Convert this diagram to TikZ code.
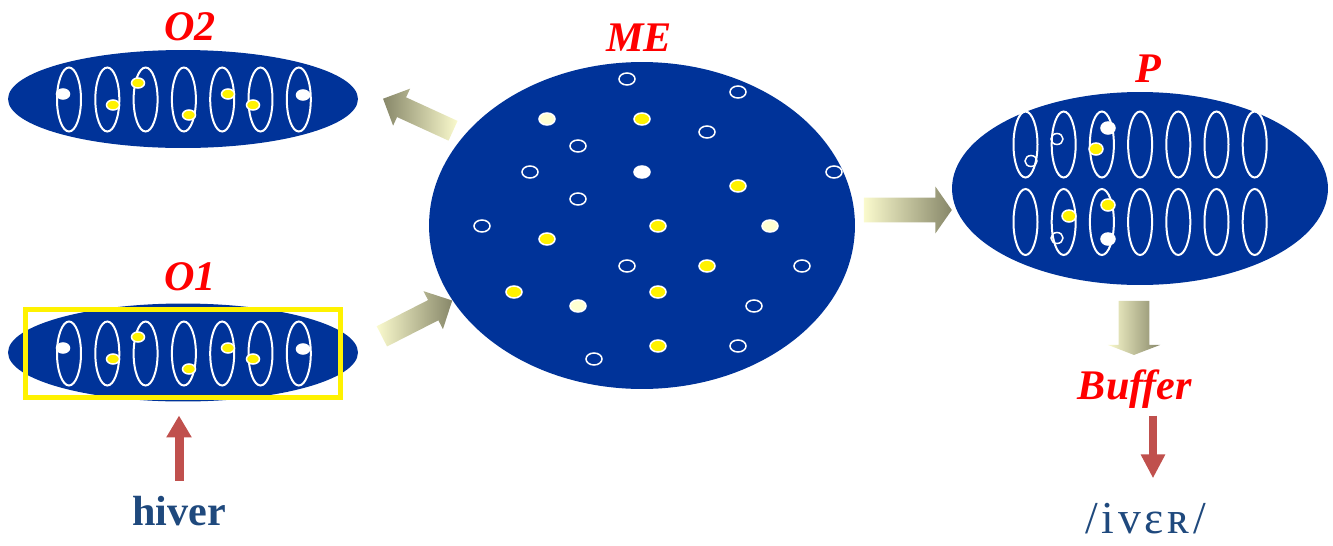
\documentclass[tikz,border=0pt]{standalone}
\usepackage{fontspec}
\setmainfont{Liberation Serif}
\usetikzlibrary{shapes.geometric, shapes.arrows, arrows.meta, positioning, calc}

\definecolor{meblue}{RGB}{0,51,153}
\definecolor{dotcream}{RGB}{255,255,210}
\definecolor{arrlight}{RGB}{250,250,205}
\definecolor{arrdark}{RGB}{135,135,105}
\definecolor{redarr}{RGB}{192,80,77}
\definecolor{wordblue}{RGB}{31,73,125}

\begin{document}
\begin{tikzpicture}[x=0.02cm, y=-0.02cm,
    blob/.style={ellipse, fill=meblue, inner sep=0pt},
    ring/.style={ellipse, draw=white, line width=0.04cm, inner sep=0pt, minimum width=0.48cm, minimum height=1.28cm},
    dot/.style={ellipse, draw=white, line width=0.03cm, inner sep=0pt, minimum width=0.26cm, minimum height=0.2cm},
    ydot/.style={dot, fill=yellow},
    wdot/.style={dot, fill=white},
    cdot/.style={dot, fill=dotcream},
    odot/.style={dot, fill=none},
    big/.style={minimum width=0.32cm, minimum height=0.24cm},
    mid/.style={minimum width=0.28cm, minimum height=0.24cm},
    small/.style={minimum width=0.24cm, minimum height=0.22cm},
    lbl/.style={text=red, font=\fontsize{24}{28}\selectfont\bfseries\itshape, inner sep=0pt},
    fatarrow/.style={single arrow, inner sep=0pt, single arrow head indent=0pt},
    redup/.style={redarr, line width=0.18cm, -{Triangle[length=0.44cm, width=0.48cm]}},
    reddown/.style={redarr, line width=0.16cm, -{Triangle[length=0.48cm, width=0.46cm]}}]

  \useasboundingbox (0,0) rectangle (1333,545);

  % the four big sets
  \node[blob, minimum width=7cm, minimum height=1.96cm] (o2) at (183,99) {};
  \node[blob, minimum width=7cm, minimum height=1.96cm] (o1) at (183,352.5) {};
  \node[blob, minimum width=8.52cm, minimum height=6.54cm] (me) at (642,225.5) {};
  \node[blob, minimum width=7.52cm, minimum height=3.86cm] (p) at (1140,188.5) {};

  % slots in O2, O1 and P
  \foreach \k in {1,...,7} {
    \node[ring] (o2r\k) at ({69+38.3*(\k-1)},99.5) {};
    \node[ring] (o1r\k) at ({69+38.3*(\k-1)},353.5) {};
    \node[ring, minimum height=1.32cm] (pt\k) at ({1025.5+38.2*(\k-1)},144.5) {};
    \node[ring, minimum height=1.32cm] (pb\k) at ({1025.5+38.2*(\k-1)},222) {};
  }

  % units in O2 and O1
  \foreach \x/\y/\s [count=\i] in {63/94/wdot, 113/105/ydot, 138/83/ydot, 189/115/ydot,
      228/94/ydot, 253/105/ydot, 303/95/wdot} {
    \node[\s] (o2d\i) at (\x,\y) {};
    \node[\s] (o1d\i) at (\x,\y+254) {};
  }

  % units in ME
  \foreach \x/\y/\s [count=\i] in {627/79/odot, 738/92/odot, 707/132/odot, 578/146/odot,
      530/172/odot, 834/172/odot, 578/199/odot, 482/226/odot, 627/266/odot, 802/266/odot,
      754/306/odot, 738/346/odot, 594/359/odot,
      547/119/cdot, 770/226/cdot, 578/306/cdot, 642/172/wdot,
      642/119/ydot, 738/186/ydot, 658/226/ydot, 547/239/ydot, 707/266/ydot,
      514/292/ydot, 658/292/ydot, 658/346/ydot} {
    \node[\s, big] (med\i) at (\x,\y) {};
  }

  % units in P
  \node[odot, small] (pd1) at (1031,161) {};
  \node[odot, small] (pd2) at (1057,139) {};
  \node[odot, small] (pd3) at (1057,238) {};
  \node[wdot, mid] (pd4) at (1108,128) {};
  \node[wdot, mid] (pd5) at (1108,239) {};
  \node[ydot, mid] (pd6) at (1096,149) {};
  \node[ydot, mid] (pd7) at (1069,216) {};
  \node[ydot, mid] (pd8) at (1108,205) {};

  % frame round O1
  \node[draw=yellow, line width=0.1cm, inner sep=0pt, minimum width=6.3cm, minimum height=1.76cm] (o1box) at (183,353.5) {};

  % labels
  \node[lbl] (o2lbl) at (190,27) {O2};
  \node[lbl] (o1lbl) at (190,277) {O1};
  \node[lbl] (melbl) at (639,38) {ME};
  \node[lbl] (plbl) at (1148,69) {P};
  \node[lbl] (buffer) at (1135,389) {Buffer};
  \node[text=wordblue, font=\fontsize{24}{28}\selectfont\bfseries, inner sep=0pt] (hiver) at (179,511) {hiver};
  \node[text=wordblue, font=\fontsize{26}{30}\selectfont\addfontfeatures{LetterSpace=8}, inner sep=0pt] (iver) at (1146,519) {/ivɛʀ/};

  % block arrows
  \node[fatarrow, rotate=155.4, minimum height=1.54cm, minimum width=0.8cm, text height=0.21cm, text depth=0.21cm,
    single arrow head extend=0.19cm, left color=arrdark, right color=arrlight] (a2) at (423,117) {};
  \node[fatarrow, rotate=27, minimum height=1.58cm, minimum width=0.84cm, text height=0.22cm, text depth=0.22cm,
    single arrow head extend=0.2cm, left color=arrlight, right color=arrdark] (a1) at (412,321) {};
  \node[fatarrow, minimum height=1.76cm, minimum width=0.92cm, text height=0.24cm, text depth=0.24cm,
    single arrow head extend=0.22cm, single arrow tip angle=110, left color=arrlight, right color=arrdark]
    (a3) at ($(me.east)!0.5!(p.west)+(0,3)$) {};
  \node[fatarrow, rotate=-90, minimum height=1.08cm, minimum width=1.04cm, text height=0.3cm, text depth=0.3cm,
    single arrow head extend=0.22cm, single arrow tip angle=138, left color=arrlight, right color=arrdark]
    (a4) at (1134,325) {};

  % red arrows
  \draw[redup, shorten <=0.3cm, shorten >=0.31cm] (hiver.north) -- (hiver.north |- o1box.south);
  \draw[reddown, shorten <=0.14cm, shorten >=0.5cm] ($(buffer.south -| iver.north)+(7,0)$) -- ($(iver.north)+(7,0)$);
\end{tikzpicture}
\end{document}
